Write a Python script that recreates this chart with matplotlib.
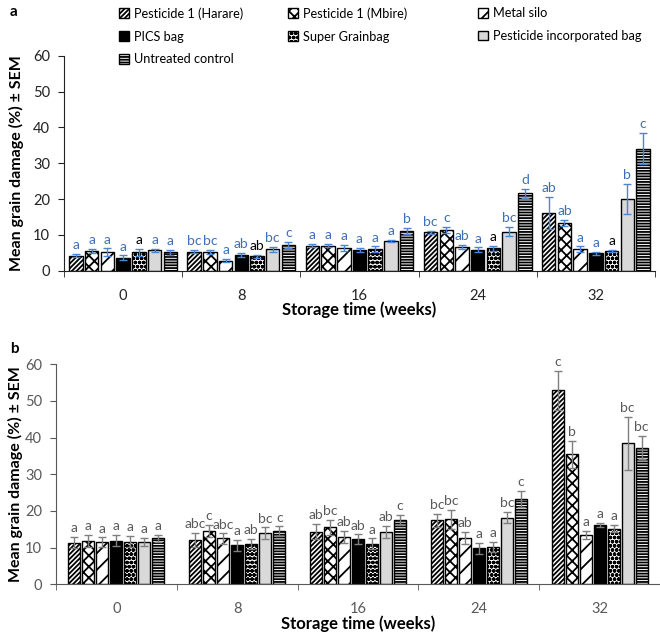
import numpy as np
import matplotlib
matplotlib.use('Agg')
import matplotlib.pyplot as plt

plt.rcParams['font.family'] = ['Lato', 'DejaVu Sans']
plt.rcParams['hatch.linewidth'] = 1.3

weeks = ['0', '8', '16', '24', '32']
treatments = ['Pesticide 1 (Harare)', 'Pesticide 1 (Mbire)', 'Metal silo', 'PICS bag',
              'Super Grainbag', 'Pesticide incorporated bag', 'Untreated control']

# panel a: rows = treatments, columns = weeks
mean_a = [
    [4.2, 5.3, 7.0, 10.7, 16.1],
    [5.5, 5.2, 7.0, 11.4, 13.4],
    [5.1, 2.8, 6.4, 6.6, 6.0],
    [3.6, 4.4, 5.8, 5.9, 4.8],
    [5.1, 4.0, 6.0, 6.2, 5.4],
    [5.7, 6.0, 8.3, 10.9, 20.0],
    [5.1, 7.2, 11.1, 21.6, 34.1],
]
sem_a = [
    [0.5, 0.5, 0.4, 0.4, 4.4],
    [0.6, 0.5, 0.5, 0.8, 0.8],
    [1.1, 0.4, 0.8, 0.6, 0.8],
    [0.7, 0.5, 0.6, 0.6, 0.4],
    [1.0, 0.5, 0.8, 0.8, 0.3],
    [0.4, 0.7, 0.3, 1.3, 4.2],
    [0.6, 0.8, 0.8, 1.2, 4.3],
]
letters_a = [
    ['a', 'bc', 'a', 'bc', 'ab'],
    ['a', 'bc', 'a', 'c', 'ab'],
    ['a', 'a', 'a', 'ab', 'a'],
    ['a', 'ab', 'a', 'a', 'a'],
    ['a', 'ab', 'a', 'a', 'a'],
    ['a', 'bc', 'a', 'bc', 'b'],
    ['a', 'c', 'b', 'd', 'c'],
]
# letters printed in black instead of blue (treatment, week)
black_letters_a = [(4, 0), (4, 1), (4, 3), (4, 4)]

# panel b
mean_b = [
    [11.4, 12.1, 14.4, 17.5, 52.9],
    [11.8, 14.6, 15.5, 17.7, 35.5],
    [11.5, 12.5, 13.0, 12.7, 13.5],
    [11.9, 10.7, 12.3, 9.8, 16.1],
    [11.6, 11.0, 11.1, 10.2, 15.2],
    [11.5, 13.9, 14.3, 18.2, 38.5],
    [12.5, 14.5, 17.6, 23.3, 37.3],
]
sem_b = [
    [1.5, 2.0, 2.0, 1.8, 5.4],
    [1.6, 1.6, 2.0, 2.5, 3.7],
    [1.3, 1.4, 1.6, 1.6, 1.1],
    [1.5, 1.5, 1.3, 1.4, 0.6],
    [1.5, 1.4, 1.4, 1.3, 1.0],
    [1.1, 1.6, 1.7, 1.6, 7.2],
    [1.0, 1.3, 1.4, 2.2, 3.2],
]
letters_b = [
    ['a', 'abc', 'ab', 'bc', 'c'],
    ['a', 'c', 'bc', 'bc', 'b'],
    ['a', 'abc', 'ab', 'ab', 'a'],
    ['a', 'a', 'ab', 'a', 'a'],
    ['a', 'ab', 'a', 'a', 'a'],
    ['a', 'bc', 'ab', 'bc', 'bc'],
    ['a', 'c', 'c', 'c', 'bc'],
]

faces = ['white', 'white', 'white', 'black', 'white', '#d9d9d9', 'white']
hatches = ['///////', 'xxx', '//', None, 'oooo', None, '------']


def draw_panel(ax, means, sems, letters, slot, width, err_color, let_color, tick_color, black_letters=()):
    x = np.arange(len(weeks))
    bars = []
    for j, name in enumerate(treatments):
        xs = x + (j - 3) * slot
        b = ax.bar(xs, means[j], width, color=faces[j], edgecolor='black', linewidth=1.0,
                   hatch=hatches[j], label=name, zorder=2)
        bars.append(b)
        ax.errorbar(xs, means[j], yerr=sems[j], fmt='none', ecolor=err_color, elinewidth=1.0,
                    capsize=3, capthick=1.0, zorder=3)
        for i in range(len(weeks)):
            c = 'black' if (j, i) in black_letters else let_color
            ax.annotate(letters[j][i], (xs[i], means[j][i] + sems[j][i]), xytext=(0, 2),
                        textcoords='offset points', ha='center', va='bottom', fontsize=10, color=c)
    ax.set_ylim(0, 60)
    ax.set_xlim(-0.5, len(weeks) - 0.5)
    ax.set_yticks(range(0, 61, 10))
    ax.set_xticks(x)
    ax.set_xticklabels(weeks)
    ax.set_xticks(np.arange(-0.5, len(weeks)), minor=True)
    ax.tick_params(axis='x', which='major', length=0, pad=13, labelsize=10.5, colors=tick_color)
    ax.tick_params(axis='x', which='minor', length=4, color=tick_color)
    ax.tick_params(axis='y', length=4, labelsize=10.5, colors=tick_color, pad=6)
    for s in ['top', 'right']:
        ax.spines[s].set_visible(False)
    for s in ['left', 'bottom']:
        ax.spines[s].set_color(tick_color)
    ax.set_xlabel('Storage time (weeks)', fontsize=12, fontweight='bold', labelpad=-1)
    ax.set_ylabel('Mean grain damage (%) \u00b1 SEM', fontsize=11.5, fontweight='bold')
    return bars


fig = plt.figure(figsize=(6.6, 6.34), dpi=100)
ax_a = fig.add_axes([64 / 660, 1 - 270.7 / 634, 591 / 660, 215 / 634])
ax_b = fig.add_axes([56 / 660, 1 - 584.3 / 634, 604 / 660, 220 / 634])

bars = draw_panel(ax_a, mean_a, sem_a, letters_a, 0.133, 0.114, '#4a86d8', '#3e6fb8', '#222222',
                  black_letters_a)
draw_panel(ax_b, mean_b, sem_b, letters_b, 0.116, 0.10, '#7f7f7f', '#595959', '#595959')
ax_a.yaxis.set_label_coords(-0.068, 0.5)
ax_b.yaxis.set_label_coords(-0.054, 0.5)

# legend laid out as three columns, filled row by row
legend_cols = [[0, 3, 6], [1, 4], [2, 5]]
col_x = [114, 283, 473]
for col, x0 in zip(legend_cols, col_x):
    fig.legend([bars[k] for k in col], [treatments[k] for k in col], frameon=False,
               loc='upper left', bbox_to_anchor=(x0 / 660, 1 - 2 / 634), fontsize=9.2,
               handlelength=0.8, handleheight=0.8, handletextpad=0.4,
               labelspacing=0.85, borderaxespad=0.0)

fig.text(10 / 660, 1 - 12 / 634, 'a', fontsize=11, fontweight='bold', va='center')
fig.text(10 / 660, 1 - 349 / 634, 'b', fontsize=11, fontweight='bold', va='center')

fig.savefig('out.png', dpi=100)
